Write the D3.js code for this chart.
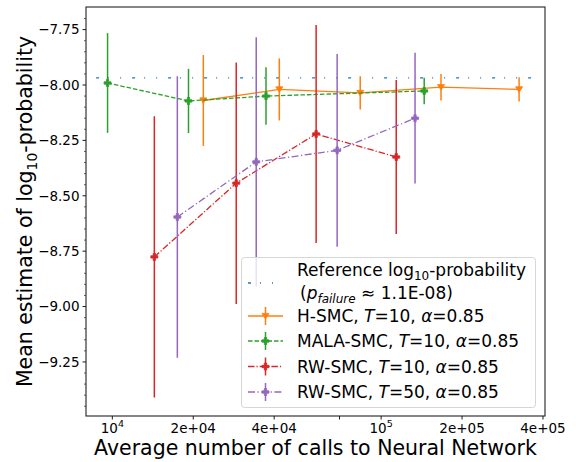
<!DOCTYPE html>
<html>
<head>
<meta charset="utf-8">
<script src="https://cdn.jsdelivr.net/npm/d3@7"></script>
<style>
  body { margin: 0; background: #fff; }
  svg { font-family: "DejaVu Sans", sans-serif; }
</style>
</head>
<body>
<svg id="chart" width="576" height="462"></svg>
<script>
// Reference value of log10 p_failure and the span it is drawn over
const refValue = -7.968;
const refSpan = [8700, 390000];

// H-SMC, T=10
const hsmcCalls = [21800, 41800, 83600, 167000, 326000];
const hsmcMean  = [-8.07, -8.02, -8.036, -8.01, -8.02];
const hsmcErr   = [0.205, 0.14, 0.075, 0.06, 0.055];

// MALA-SMC, T=10
const malaCalls = [9600, 19200, 37300, 144600];
const malaMean  = [-7.991, -8.072, -8.05, -8.027];
const malaErr   = [0.225, 0.145, 0.13, 0.06];

// RW-SMC, T=10
const rw10Calls = [14330, 28900, 57300, 113800];
const rw10Mean  = [-8.776, -8.443, -8.221, -8.325];
const rw10Err   = [0.635, 0.545, 0.492, 0.347];

// RW-SMC, T=50
const rw50Calls = [17450, 34300, 68600, 133700];
const rw50Mean  = [-8.596, -8.347, -8.295, -8.15];
const rw50Err   = [0.635, 0.562, 0.435, 0.295];

// Axis ticks
const xTicks = [1e4, 2e4, 4e4, 7e4, 1e5, 2e5, 4e5];
const xTickLabels = [["10", "4"], ["2e+04"], ["4e+04"], [""], ["10", "5"], ["2e+05"], ["4e+05"]];
const yTicks = [-9.25, -9.0, -8.75, -8.5, -8.25, -8.0, -7.75];

const margin = { left: 86, top: 7, right: 31, bottom: 46 };
const W = 576, H = 462;
const iw = W - margin.left - margin.right;
const ih = H - margin.top - margin.bottom;

const svg = d3.select("#chart");
const g = svg.append("g").attr("transform", `translate(${margin.left},${margin.top})`);

const x = d3.scaleLog().domain([7980, 407000]).range([0, iw]);
const y = d3.scaleLinear().domain([-9.494, -7.648]).range([ih, 0]);

const series = [
  { name: "hsmc", calls: hsmcCalls, mean: hsmcMean, err: hsmcErr, color: "#ff7f0e", dash: null, marker: "tri" },
  { name: "mala", calls: malaCalls, mean: malaMean, err: malaErr, color: "#2ca02c", dash: "4.5,2", marker: "plus" },
  { name: "rw10", calls: rw10Calls, mean: rw10Mean, err: rw10Err, color: "#d62728", dash: "6.5,2,1.2,2", marker: "plus" },
  { name: "rw50", calls: rw50Calls, mean: rw50Mean, err: rw50Err, color: "#9467bd", dash: "7,2.5,1.2,2.5", marker: "plus" }
];

g.append("clipPath").attr("id", "plotclip")
  .append("rect").attr("width", iw).attr("height", ih);

const plot = g.append("g").attr("clip-path", "url(#plotclip)");

// Reference level
plot.append("line")
  .attr("x1", x(refSpan[0])).attr("x2", x(refSpan[1]))
  .attr("y1", y(refValue)).attr("y2", y(refValue))
  .attr("stroke", "#1f77b4").attr("stroke-width", 1.3)
  .attr("stroke-dasharray", "3,9,1,11,1,11");

const plusPath = (s) => {
  const a = s / 2, b = s / 6;
  return `M${-b},${-a}H${b}V${-b}H${a}V${b}H${b}V${a}H${-b}V${b}H${-a}V${-b}H${-b}Z`;
};
const triPath = (s) => {
  const a = s / 2;
  return `M${-a},${-a * 0.75}H${a}L0,${a * 0.85}Z`;
};

function drawMarker(sel, type, color, size) {
  sel.append("path")
    .attr("d", type === "tri" ? triPath(size) : plusPath(size))
    .attr("fill", color).attr("stroke", color).attr("stroke-width", 0.8);
}

series.forEach(s => {
  const pts = s.calls.map((c, i) => ({ c, m: s.mean[i], e: s.err[i] }));
  const sg = plot.append("g");
  sg.append("path")
    .datum(pts)
    .attr("fill", "none")
    .attr("stroke", s.color)
    .attr("stroke-width", 1.3)
    .attr("stroke-dasharray", s.dash)
    .attr("d", d3.line().x(d => x(d.c)).y(d => y(d.m)));
  sg.selectAll("line.err").data(pts).join("line")
    .attr("class", "err")
    .attr("x1", d => x(d.c)).attr("x2", d => x(d.c))
    .attr("y1", d => y(d.m - d.e)).attr("y2", d => y(d.m + d.e))
    .attr("stroke", s.color).attr("stroke-width", 1.5);
  pts.forEach(d => {
    const mg = sg.append("g").attr("transform", `translate(${x(d.c)},${y(d.m)})`);
    drawMarker(mg, s.marker, s.color, 7);
  });
});

// Y axis
const yAxis = g.append("g");
yAxis.selectAll("line.major").data(yTicks).join("line")
  .attr("x1", -3.5).attr("x2", 0)
  .attr("y1", d => y(d)).attr("y2", d => y(d))
  .attr("stroke", "#000").attr("stroke-width", 0.9);
const minorY = d3.range(-9.45, -7.65, 0.05).map(v => +v.toFixed(2))
  .filter(v => !yTicks.some(t => Math.abs(t - v) < 1e-6));
yAxis.selectAll("line.minor").data(minorY).join("line")
  .attr("x1", -2).attr("x2", 0)
  .attr("y1", d => y(d)).attr("y2", d => y(d))
  .attr("stroke", "#000").attr("stroke-width", 0.6);
yAxis.selectAll("text").data(yTicks).join("text")
  .attr("x", -6.5).attr("y", d => y(d)).attr("dy", "0.36em")
  .attr("text-anchor", "end").attr("font-size", 13.5).attr("fill", "#000")
  .text(d => "\u2212" + Math.abs(d).toFixed(2));

// X axis
const xAxis = g.append("g").attr("transform", `translate(0,${ih})`);
xAxis.selectAll("line").data(xTicks).join("line")
  .attr("x1", d => x(d)).attr("x2", d => x(d))
  .attr("y1", 0).attr("y2", 3.5)
  .attr("stroke", "#000").attr("stroke-width", 0.9);
xTicks.forEach((t, i) => {
  const lab = xTickLabels[i];
  const tx = xAxis.append("text")
    .attr("x", x(t)).attr("y", 17)
    .attr("text-anchor", "middle").attr("font-size", 13.5).attr("fill", "#000");
  tx.append("tspan").text(lab[0]);
  if (lab.length > 1) {
    tx.append("tspan").attr("dy", -6).attr("font-size", 9.5).text(lab[1]);
  }
});

// Frame
g.append("rect").attr("width", iw).attr("height", ih)
  .attr("fill", "none").attr("stroke", "#222").attr("stroke-width", 1.1);

// Axis titles
svg.append("text")
  .attr("x", margin.left + iw / 2).attr("y", 455)
  .attr("text-anchor", "middle").attr("font-size", 20.5).attr("fill", "#000")
  .text("Average number of calls to Neural Network");

const yl = svg.append("text")
  .attr("transform", `translate(32,${margin.top + ih / 2}) rotate(-90)`)
  .attr("text-anchor", "middle").attr("font-size", 20.5).attr("fill", "#000");
yl.append("tspan").text("Mean estimate of log");
yl.append("tspan").attr("dy", 5).attr("font-size", 14).text("10");
yl.append("tspan").attr("dy", -5).text("-probability");

// Legend
const lg = svg.append("g");
lg.append("rect")
  .attr("x", 241.5).attr("y", 257.5).attr("width", 294).attr("height", 150)
  .attr("rx", 3).attr("fill", "#fff").attr("fill-opacity", 0.8)
  .attr("stroke", "#d6d6d6").attr("stroke-width", 1);

const hx0 = 248, hx1 = 283, hxm = 265.5, tx0 = 297;
lg.append("line")
  .attr("x1", hx0).attr("x2", hx1).attr("y1", 283).attr("y2", 283)
  .attr("stroke", "#1f77b4").attr("stroke-width", 1.3)
  .attr("stroke-dasharray", "3,9,1,11,1,11");

const fs = 17;
const r1 = lg.append("text").attr("x", tx0).attr("y", 276).attr("font-size", fs).attr("fill", "#000");
r1.append("tspan").text("Reference log");
r1.append("tspan").attr("dy", 3.5).attr("font-size", 12).text("10");
r1.append("tspan").attr("dy", -3.5).text("-probability");
const r2 = lg.append("text").attr("x", tx0 + 3).attr("y", 298.5).attr("font-size", fs).attr("fill", "#000");
r2.append("tspan").text("(");
r2.append("tspan").attr("font-style", "italic").text("p");
r2.append("tspan").attr("dy", 4).attr("font-size", 12).attr("font-style", "italic").text("failure");
r2.append("tspan").attr("dy", -4).text(" \u2248 1.1E-08)");

const legendRows = [
  { s: series[0], label: "H-SMC", tv: "10", yc: 316 },
  { s: series[1], label: "MALA-SMC", tv: "10", yc: 341 },
  { s: series[2], label: "RW-SMC", tv: "10", yc: 366.5 },
  { s: series[3], label: "RW-SMC", tv: "50", yc: 392 }
];
legendRows.forEach(r => {
  lg.append("line").attr("x1", hx0).attr("x2", hx1).attr("y1", r.yc).attr("y2", r.yc)
    .attr("stroke", r.s.color).attr("stroke-width", 1.3).attr("stroke-dasharray", r.s.dash);
  lg.append("line").attr("x1", hxm).attr("x2", hxm).attr("y1", r.yc - 9).attr("y2", r.yc + 9)
    .attr("stroke", r.s.color).attr("stroke-width", 1.5);
  const mg = lg.append("g").attr("transform", `translate(${hxm},${r.yc})`);
  drawMarker(mg, r.s.marker, r.s.color, 7);
  const t = lg.append("text").attr("x", tx0).attr("y", r.yc + 6).attr("font-size", fs).attr("fill", "#000");
  t.append("tspan").text(r.label + ", ");
  t.append("tspan").attr("font-style", "italic").text("T");
  t.append("tspan").text("=" + r.tv + ", ");
  t.append("tspan").attr("font-style", "italic").text("\u03b1");
  t.append("tspan").text("=0.85");
});
</script>
</body>
</html>
